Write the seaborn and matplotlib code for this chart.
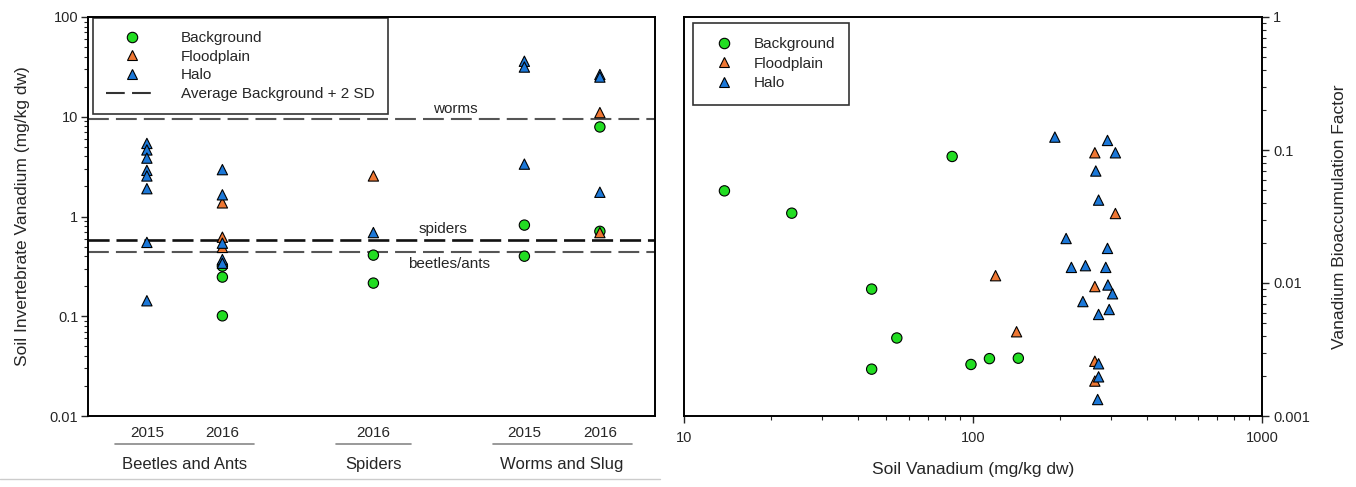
import pandas as pd
import matplotlib
matplotlib.use("Agg")
import matplotlib.pyplot as plt
from matplotlib.lines import Line2D
from matplotlib.ticker import LogLocator, FuncFormatter, NullFormatter
import seaborn as sns

# --- datos panel izquierdo (vanadio en invertebrados, mg/kg dw) ---
cats = ["Beetles 2015", "Beetles 2016", "Spiders 2016", "Worms 2015", "Worms 2016"]
cat_years = ["2015", "2016", "2016", "2015", "2016"]
groups = ["Beetles and Ants", "Spiders", "Worms and Slug"]
group_cats = [["Beetles 2015", "Beetles 2016"], ["Spiders 2016"], ["Worms 2015", "Worms 2016"]]

bg_cat = ["Beetles 2016", "Beetles 2016", "Beetles 2016", "Spiders 2016", "Spiders 2016",
          "Worms 2015", "Worms 2015", "Worms 2016", "Worms 2016"]
bg_val = [0.318, 0.247, 0.101, 0.41, 0.215, 0.82, 0.40, 7.9, 0.71]

fp_cat = ["Beetles 2016", "Beetles 2016", "Beetles 2016", "Spiders 2016", "Worms 2016", "Worms 2016"]
fp_val = [1.37, 0.62, 0.49, 2.55, 11.0, 0.69]

halo_cat = ["Beetles 2015"] * 8 + ["Beetles 2016"] * 5 + ["Spiders 2016"] + ["Worms 2015"] * 3 + ["Worms 2016"] * 3
halo_val = [5.4, 4.65, 3.85, 2.9, 2.55, 1.9, 0.55, 0.143,
            2.95, 1.65, 0.54, 0.37, 0.34,
            0.69,
            36.0, 31.5, 3.35,
            26.5, 25.0, 1.75]

# Average Background + 2 SD
thr_names = ["worms", "spiders", "beetles/ants"]
thr_vals = [9.6, 0.58, 0.44]

# --- datos panel derecho (BAF vs vanadio en suelo) ---
bg_soil = [13.8, 23.6, 84.7, 44.6, 54.5, 44.6, 98.4, 114, 143.5]
bg_baf = [0.0493, 0.0335, 0.0894, 0.0090, 0.00386, 0.00225, 0.00244, 0.00270, 0.00272]

fp_soil = [119.7, 141.5, 264, 311, 264, 264, 264]
fp_baf = [0.01135, 0.0043, 0.0953, 0.0333, 0.0094, 0.00258, 0.00183]

halo_soil = [192, 292, 311, 266, 272, 210, 292, 219, 245, 288, 293, 304, 240, 296, 272, 272, 272, 270]
halo_baf = [0.125, 0.118, 0.0953, 0.0695, 0.042, 0.0216, 0.0182, 0.0131, 0.0135, 0.0131,
            0.00966, 0.0083, 0.00725, 0.00632, 0.0058, 0.00247, 0.00197, 0.00133]

sites = ["Background", "Floodplain", "Halo"]
colors = {"Background": "#22DD22", "Floodplain": "#EE7733", "Halo": "#1C78D8"}
markers = {"Background": "o", "Floodplain": "^", "Halo": "^"}

cat_pos = dict(zip(cats, [0, 1, 3, 5, 6]))

left = pd.concat([
    pd.DataFrame({"cat": bg_cat, "value": bg_val, "site": "Background"}),
    pd.DataFrame({"cat": fp_cat, "value": fp_val, "site": "Floodplain"}),
    pd.DataFrame({"cat": halo_cat, "value": halo_val, "site": "Halo"}),
], ignore_index=True)
left["pos"] = left["cat"].map(cat_pos)

right = pd.concat([
    pd.DataFrame({"soil": bg_soil, "baf": bg_baf, "site": "Background"}),
    pd.DataFrame({"soil": fp_soil, "baf": fp_baf, "site": "Floodplain"}),
    pd.DataFrame({"soil": halo_soil, "baf": halo_baf, "site": "Halo"}),
], ignore_index=True)

sns.set_style("ticks")
plt.rcParams['font.family'] = ['Liberation Sans', 'DejaVu Sans']

fig = plt.figure(figsize=(13.56, 4.87), dpi=100)
ax1 = fig.add_axes([88 / 1356, 1 - 416 / 487, (655 - 88) / 1356, (416 - 17) / 487])
ax2 = fig.add_axes([684 / 1356, 1 - 416 / 487, (1262 - 684) / 1356, (416 - 17) / 487])

fmt = FuncFormatter(lambda v, p: f"{v:g}")
tick_fs = 10.5
leg_fs = 11

# ---------- panel izquierdo ----------
sns.scatterplot(data=left, x="pos", y="value", hue="site", style="site",
                palette=colors, markers=markers, s=55, edgecolor="black",
                linewidth=0.8, legend=False, ax=ax1, zorder=3)
ax1.set_yscale("log")
ax1.set_ylim(0.01, 100)
ax1.set_xlim(-0.78, 6.73)

for name, val in zip(thr_names, thr_vals):
    if name == "spiders":
        ax1.axhline(val, color="#111111", lw=1.9, ls=(0, (8, 2.6)), zorder=2)
    else:
        ax1.axhline(val, color="#555555", lw=1.5, ls=(0, (10, 3.4)), zorder=2)
ax1.text(4.08, thr_vals[0] * 1.07, "worms", ha="center", va="bottom", fontsize=11)
ax1.text(3.92, thr_vals[1] * 1.09, "spiders", ha="center", va="bottom", fontsize=11)
ax1.text(4.0, thr_vals[2] * 0.9, "beetles/ants", ha="center", va="top", fontsize=11)

ax1.yaxis.set_major_locator(LogLocator(base=10))
ax1.yaxis.set_minor_locator(LogLocator(base=10, subs=range(2, 10)))
ax1.yaxis.set_major_formatter(fmt)
ax1.yaxis.set_minor_formatter(NullFormatter())
ax1.tick_params(axis="y", which="major", length=5, width=1, labelsize=tick_fs, direction="out", pad=2)
ax1.tick_params(axis="y", which="minor", length=3, width=0.8, direction="out")
ax1.tick_params(axis="x", bottom=False, labelbottom=False)
ax1.set_xlabel("")
ax1.set_ylabel("Soil Invertebrate Vanadium (mg/kg dw)", fontsize=12.5, labelpad=14)

# etiquetas de categoría bajo el eje
trans = ax1.get_xaxis_transform()
for c, yr in zip(cats, cat_years):
    ax1.text(cat_pos[c], -0.043, yr, transform=trans, ha="center", va="center", fontsize=11)
for g, members in zip(groups, group_cats):
    ps = [cat_pos[m] for m in members]
    pad = 0.42 if len(ps) > 1 else 0.5
    ax1.plot([min(ps) - pad, max(ps) + pad], [-0.07, -0.07], transform=trans,
             color="#888888", lw=1.2, clip_on=False)
    ax1.text((min(ps) + max(ps)) / 2, -0.122, g, transform=trans, ha="center",
             va="center", fontsize=12)

handles = [Line2D([], [], ls="none", marker=markers[s], markersize=7.5, markerfacecolor=colors[s],
                  markeredgecolor="black", markeredgewidth=0.8) for s in sites]
handles.append(Line2D([], [], color="#333333", lw=1.5, ls=(0, (9, 3.5))))
leg1 = ax1.legend(handles, sites + ["Average Background + 2 SD"], loc="upper left",
                  bbox_to_anchor=(0.009, 0.997), borderaxespad=0, fontsize=leg_fs,
                  frameon=True, fancybox=False, edgecolor="black", handlelength=3.4,
                  handletextpad=1.5, labelspacing=0.3, borderpad=0.85)
leg1.get_frame().set_linewidth(1.2)

# ---------- panel derecho ----------
sns.scatterplot(data=right, x="soil", y="baf", hue="site", style="site",
                palette=colors, markers=markers, s=55, edgecolor="black",
                linewidth=0.8, legend=False, ax=ax2, zorder=3)
ax2.set_xscale("log")
ax2.set_yscale("log")
ax2.set_xlim(10, 1000)
ax2.set_ylim(0.001, 1)
ax2.yaxis.tick_right()
ax2.yaxis.set_label_position("right")
for axis in (ax2.xaxis, ax2.yaxis):
    axis.set_major_locator(LogLocator(base=10))
    axis.set_minor_locator(LogLocator(base=10, subs=range(2, 10)))
    axis.set_major_formatter(fmt)
    axis.set_minor_formatter(NullFormatter())
ax2.tick_params(which="major", length=5, width=1, labelsize=tick_fs, direction="out")
ax2.tick_params(which="minor", length=3, width=0.8, direction="out")
ax2.tick_params(axis="x", which="major", pad=6)
ax2.tick_params(axis="y", which="major", pad=3)
ax2.set_xlabel("Soil Vanadium (mg/kg dw)", fontsize=12.5, labelpad=12)
ax2.set_ylabel("Vanadium Bioaccumulation Factor", fontsize=12.5, labelpad=16)

handles2 = [Line2D([], [], ls="none", marker=markers[s], markersize=7.5, markerfacecolor=colors[s],
                   markeredgecolor="black", markeredgewidth=0.8) for s in sites]
leg2 = ax2.legend(handles2, sites, loc="upper left", bbox_to_anchor=(0.0156, 0.985),
                  borderaxespad=0, fontsize=leg_fs, frameon=True, fancybox=False,
                  edgecolor="black", handlelength=2.2, handletextpad=0.8,
                  labelspacing=0.35, borderpad=0.95)
leg2.get_frame().set_linewidth(1.2)

for ax in (ax1, ax2):
    for sp in ax.spines.values():
        sp.set_visible(True)
        sp.set_color("black")
        sp.set_linewidth(1.4)

# línea gris inferior
fig.add_artist(Line2D([0, 660 / 1356], [1 - 479 / 487, 1 - 479 / 487], color="#cccccc", lw=1))

fig.savefig("out.png", dpi=100)
